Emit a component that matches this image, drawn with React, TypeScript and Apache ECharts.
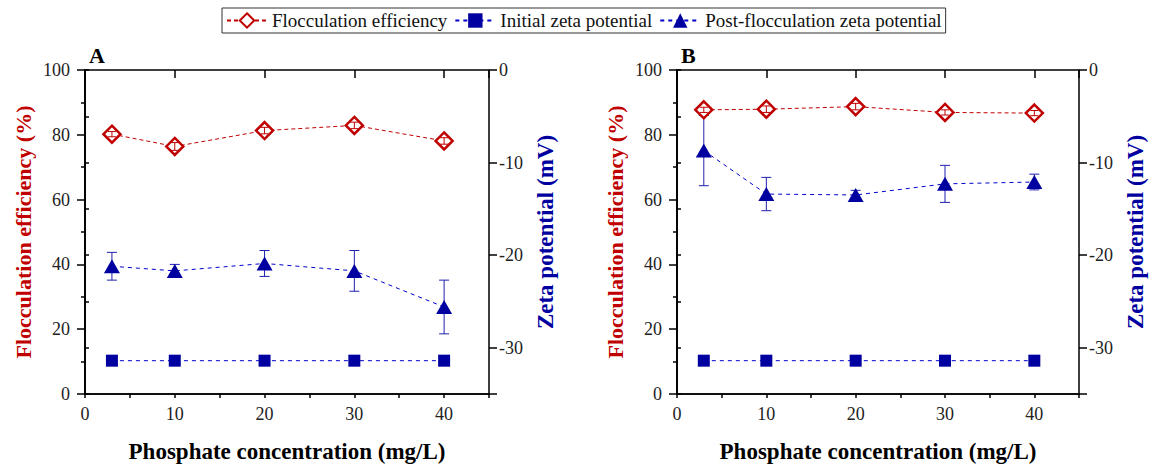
import React, { useEffect, useRef } from "react";
import * as echarts from "echarts";

const concentrations = [3, 10, 20, 30, 40];

const flocA = [80.2, 76.4, 81.3, 82.9, 78.1];
const flocErrA = [0.8, 1.2, 1.0, 1.0, 1.0];
const initialZetaA = [-31.4, -31.4, -31.4, -31.4, -31.4];
const postZetaA = [-21.2, -21.7, -20.9, -21.7, -25.6];
const postErrA = [1.5, 0.7, 1.4, 2.2, 2.9];

const flocB = [87.7, 87.9, 88.7, 86.9, 86.7];
const flocErrB = [0.8, 1.0, 1.0, 0.8, 0.8];
const initialZetaB = [-31.4, -31.4, -31.4, -31.4, -31.4];
const postZetaB = [-8.7, -13.4, -13.5, -12.3, -12.1];
const postErrB = [3.8, 1.8, 0.5, 2.0, 0.85];

const xTickLabels = ["0", "10", "20", "30", "40"];
const panelLabels = ["A", "B"];
const legendNames = [
  "Flocculation efficiency",
  "Initial zeta potential",
  "Post-flocculation zeta potential",
];

const RED = "#C00000";
const BLUE = "#0000A0";
const FONT = "Liberation Serif";

const errorRenderer = (color: string, cap: number) => (params: any, api: any) => {
  const x = api.value(0);
  const lo = api.value(1);
  const hi = api.value(2);
  const pLo = api.coord([x, lo]);
  const pHi = api.coord([x, hi]);
  const style = { stroke: color, lineWidth: 1 };
  return {
    type: "group",
    children: [
      { type: "line", shape: { x1: pLo[0], y1: pLo[1], x2: pHi[0], y2: pHi[1] }, style },
      { type: "line", shape: { x1: pLo[0] - cap, y1: pLo[1], x2: pLo[0] + cap, y2: pLo[1] }, style },
      { type: "line", shape: { x1: pHi[0] - cap, y1: pHi[1], x2: pHi[0] + cap, y2: pHi[1] }, style },
    ],
  };
};

function buildPanel(
  g: number,
  floc: number[],
  flocErr: number[],
  initZ: number[],
  postZ: number[],
  postErr: number[]
) {
  const xData = g * 2;
  const yLeft = g * 3;
  const yRight = g * 3 + 1;
  return [
    {
      name: legendNames[0],
      type: "line",
      xAxisIndex: xData,
      yAxisIndex: yLeft,
      data: concentrations.map((c, i) => [c, floc[i]]),
      symbol: "diamond",
      symbolSize: [17, 17],
      itemStyle: { color: "#ffffff", borderColor: RED, borderWidth: 2.5 },
      lineStyle: { color: RED, width: 1, type: [4, 3] },
      z: 3,
    },
    {
      name: "flocErr" + g,
      type: "custom",
      xAxisIndex: xData,
      yAxisIndex: yLeft,
      renderItem: errorRenderer(RED, 4),
      encode: { x: 0, y: [1, 2] },
      data: concentrations.map((c, i) => [c, floc[i] - flocErr[i], floc[i] + flocErr[i]]),
      z: 4,
    },
    {
      name: legendNames[1],
      type: "line",
      xAxisIndex: xData,
      yAxisIndex: yRight,
      data: concentrations.map((c, i) => [c, initZ[i]]),
      symbol: "rect",
      symbolSize: 12,
      itemStyle: { color: BLUE },
      lineStyle: { color: "#0000CC", width: 1, type: [4, 4] },
      z: 3,
    },
    {
      name: "postErr" + g,
      type: "custom",
      xAxisIndex: xData,
      yAxisIndex: yRight,
      renderItem: errorRenderer("#2020B0", 5),
      encode: { x: 0, y: [1, 2] },
      data: concentrations.map((c, i) => [c, postZ[i] - postErr[i], postZ[i] + postErr[i]]),
      z: 2,
    },
    {
      name: legendNames[2],
      type: "line",
      xAxisIndex: xData,
      yAxisIndex: yRight,
      data: concentrations.map((c, i) => [c, postZ[i]]),
      symbol: "triangle",
      symbolSize: [16, 14],
      itemStyle: { color: BLUE },
      lineStyle: { color: "#0000CC", width: 1, type: [4, 4] },
      z: 3,
    },
  ];
}

const axisLineStyle = { show: true, lineStyle: { color: "#000", width: 1.5 } };

function xAxes(g: number) {
  return [
    {
      type: "value",
      gridIndex: g,
      position: "bottom",
      min: 0,
      max: 45,
      interval: 5,
      axisLine: axisLineStyle,
      axisTick: { show: true, length: 4, lineStyle: { color: "#000", width: 1.5 } },
      axisLabel: { show: false },
      splitLine: { show: false },
    },
    {
      type: "value",
      gridIndex: g,
      position: "bottom",
      min: 0,
      max: 45,
      interval: 10,
      name: "Phosphate concentration (mg/L)",
      nameLocation: "middle",
      nameGap: 46,
      nameTextStyle: { fontFamily: FONT, fontSize: 23, fontWeight: "bold", color: "#000" },
      axisLine: { show: false },
      axisTick: { show: true, length: 8, lineStyle: { color: "#000", width: 1.5 } },
      axisLabel: {
        fontFamily: FONT,
        fontSize: 18,
        color: "#222",
        margin: 11,
        formatter: (v: number) => {
          const i = v / 10;
          return Number.isInteger(i) && i < xTickLabels.length ? xTickLabels[i] : "";
        },
      },
      splitLine: { show: false },
    },
  ];
}

function yAxes(g: number) {
  return [
    {
      type: "value",
      gridIndex: g,
      position: "left",
      min: 0,
      max: 100,
      interval: 20,
      name: "Flocculation efficiency (%)",
      nameLocation: "middle",
      nameGap: 51,
      nameTextStyle: { fontFamily: FONT, fontSize: 22, fontWeight: "bold", color: RED },
      axisLine: axisLineStyle,
      axisTick: { show: true, length: 8, lineStyle: { color: "#000", width: 1.5 } },
      minorTick: { show: true, splitNumber: 2, length: 4, lineStyle: { color: "#000", width: 1.5 } },
      axisLabel: { fontFamily: FONT, fontSize: 18, color: "#222", margin: 15 },
      splitLine: { show: false },
      minorSplitLine: { show: false },
    },
    {
      type: "value",
      gridIndex: g,
      position: "right",
      min: -35,
      max: 0,
      interval: 5,
      axisLine: axisLineStyle,
      axisTick: { show: true, length: 4, lineStyle: { color: "#000", width: 1.5 } },
      axisLabel: { show: false },
      splitLine: { show: false },
    },
    {
      type: "value",
      gridIndex: g,
      position: "right",
      inverse: true,
      min: 0,
      max: 35,
      interval: 10,
      name: "Zeta potential (mV)",
      nameLocation: "middle",
      nameGap: 45,
      nameRotate: 90,
      nameTextStyle: { fontFamily: FONT, fontSize: 23, fontWeight: "bold", color: BLUE },
      axisLine: { show: false },
      axisTick: { show: true, length: 8, lineStyle: { color: "#000", width: 1.5 } },
      axisLabel: {
        fontFamily: FONT,
        fontSize: 18,
        color: "#222",
        margin: 10,
        formatter: (v: number) => (v === 0 ? "0" : v % 10 === 0 ? "-" + v : ""),
      },
      splitLine: { show: false },
    },
  ];
}

export default function App() {
  const ref = useRef<HTMLDivElement>(null);
  useEffect(() => {
    if (!ref.current) return;
    const chart = echarts.init(ref.current, null, { renderer: "svg" });
    const gridBase = {
      top: 70,
      height: 324,
      show: true,
      borderColor: "#000",
      borderWidth: 1.5,
      backgroundColor: "transparent",
    };
    chart.setOption({
      animation: false,
      backgroundColor: "#ffffff",
      legend: {
        data: legendNames,
        left: 222,
        top: 8,
        padding: [3, 4],
        itemGap: 7,
        itemWidth: 40,
        itemHeight: 18,
        borderColor: "#333",
        borderWidth: 1,
        textStyle: { fontFamily: FONT, fontSize: 19, color: "#111" },
        selectedMode: false,
      },
      grid: [
        { ...gridBase, left: 85, width: 404 },
        { ...gridBase, left: 677, width: 402 },
      ],
      xAxis: [...xAxes(0), ...xAxes(1)],
      yAxis: [...yAxes(0), ...yAxes(1)],
      graphic: [
        {
          type: "text",
          x: 89,
          y: 44,
          style: { text: panelLabels[0], font: `bold 22px "${FONT}"`, fill: "#000" },
        },
        {
          type: "text",
          x: 681,
          y: 44,
          style: { text: panelLabels[1], font: `bold 22px "${FONT}"`, fill: "#000" },
        },
      ],
      series: [
        ...buildPanel(0, flocA, flocErrA, initialZetaA, postZetaA, postErrA),
        ...buildPanel(1, flocB, flocErrB, initialZetaB, postZetaB, postErrB),
      ],
    });
    return () => chart.dispose();
  }, []);
  return (
    <div
      ref={ref}
      style={{ position: "absolute", left: 0, top: 0, width: 1162, height: 468 }}
    />
  );
}
